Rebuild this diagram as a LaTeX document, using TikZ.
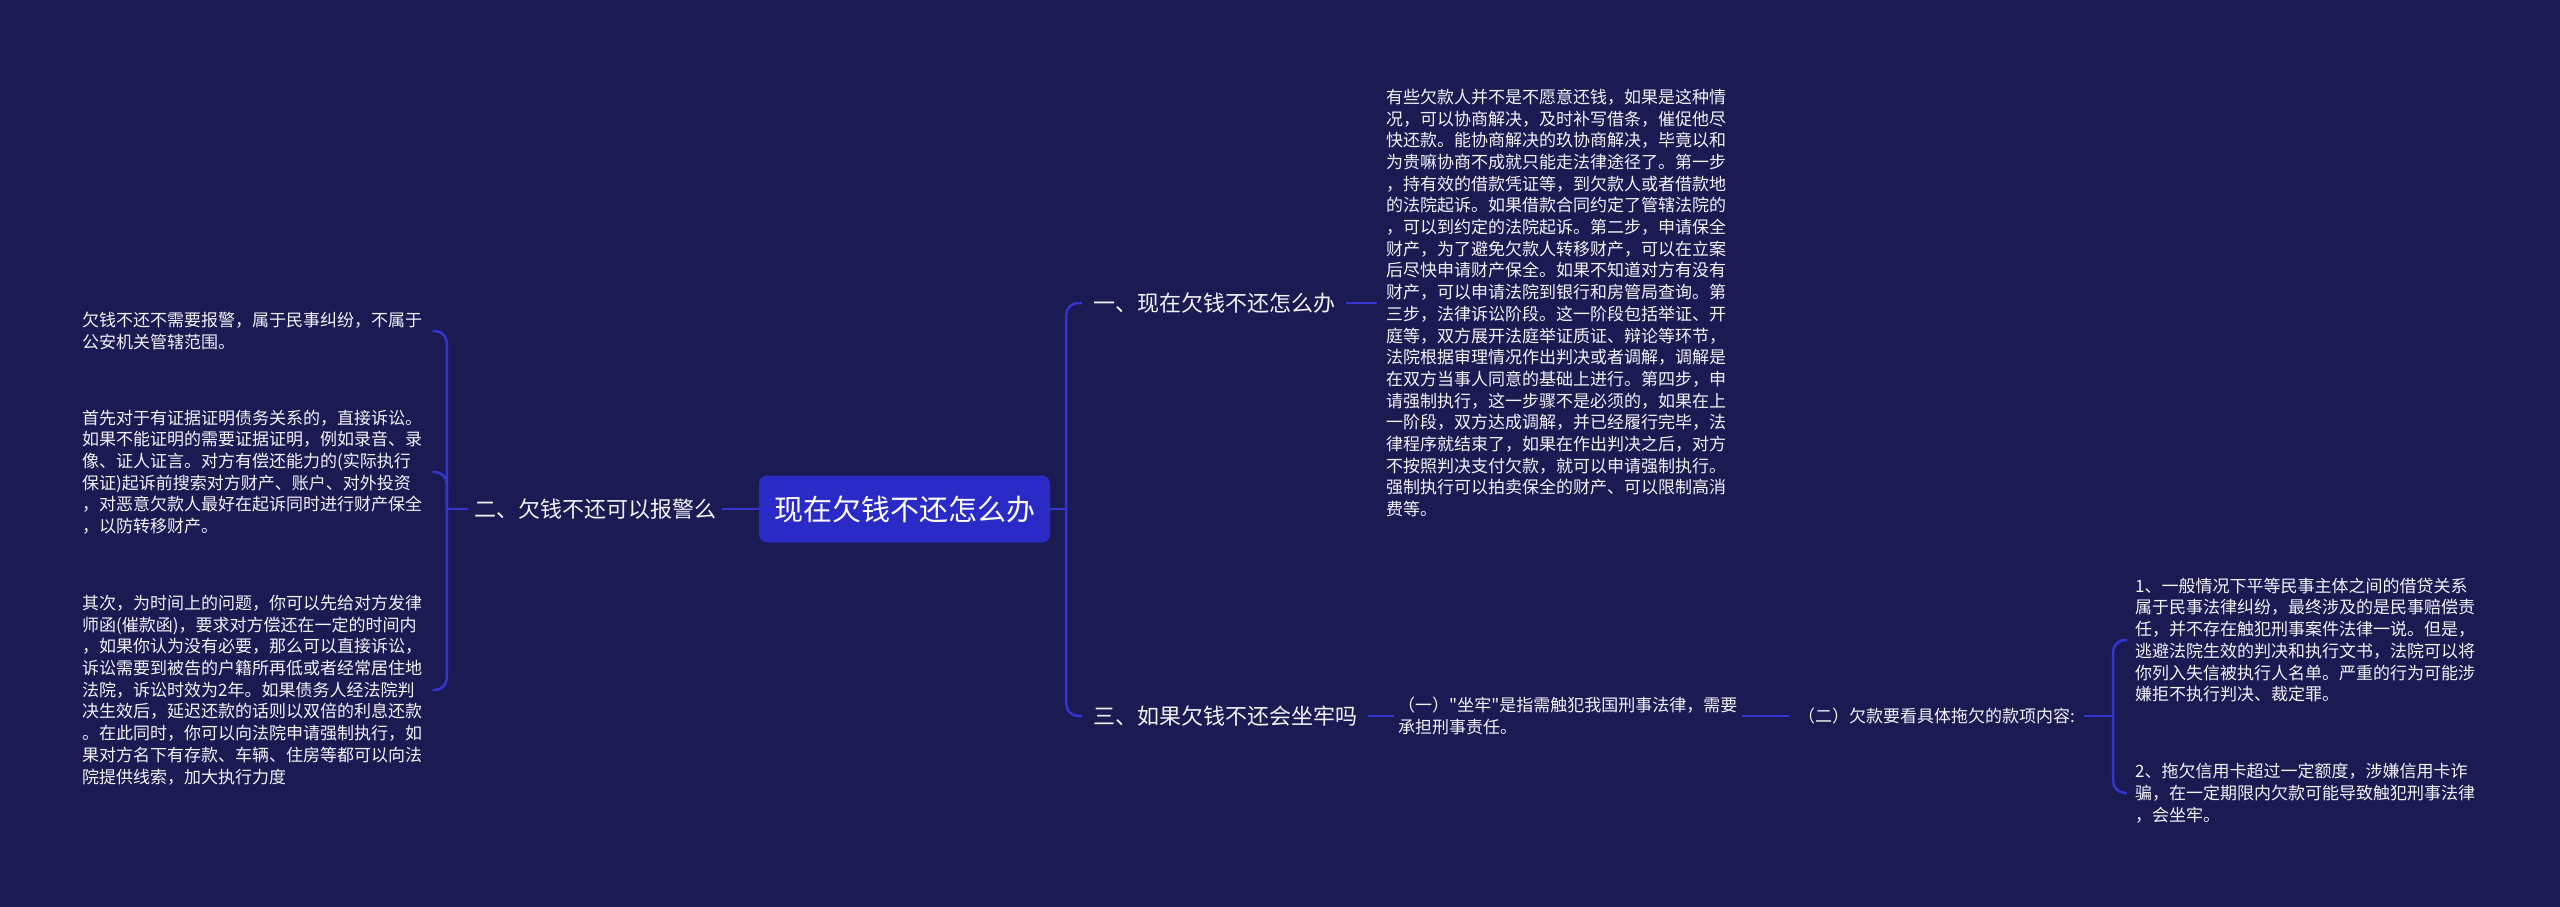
\documentclass[tikz,border=0pt]{standalone}
\usepackage{fontspec}
\setmainfont{Noto Sans CJK SC}
\newfontfamily\qfont{Noto Sans CJK SC}
\definecolor{bg}{HTML}{1B1A52}
\definecolor{ln}{HTML}{3434CF}
\definecolor{ctr}{HTML}{2A2AC6}
\definecolor{txt}{HTML}{F2F2FA}
\tikzset{
  conn/.style={draw=ln, line width=2.5pt, rounded corners=12pt},
  body/.style={text=txt, font=\fontsize{17}{21.7}\selectfont, align=left, inner sep=0pt},
  branch/.style={text=txt, font=\fontsize{22}{26}\selectfont, inner xsep=11pt, inner ysep=2pt},
  root/.style={fill=ctr, text=white, rounded corners=8pt, minimum width=291pt, minimum height=67pt, inner sep=0pt, font=\fontsize{29}{34}\selectfont}
}
\begin{document}
\begin{tikzpicture}[x=1pt,y=-1pt]
\fill[bg] (0,0) rectangle (2560,907);
\useasboundingbox (0,0) rectangle (2560,907);

% root
\node[root] (c) at (904.5,509) {现在欠钱不还怎么办};

% left branch
\node[branch, inner xsep=6pt] (b2) at (595,509) {二、欠钱不还可以报警么};
\node[body, text width=350pt, anchor=west] (l1) at (82,331) {欠钱不还不需要报警，属于民事纠纷，不属于\\公安机关管辖范围。};
\node[body, text width=350pt, anchor=west] (l2) at (82,472) {首先对于有证据证明债务关系的，直接诉讼。\\如果不能证明的需要证据证明，例如录音、录\\像、证人证言。对方有偿还能力的(实际执行\\保证)起诉前搜索对方财产、账户、对外投资\\，对恶意欠款人最好在起诉同时进行财产保全\\，以防转移财产。};
\node[body, text width=350pt, anchor=west] (l3) at (82,690) {其次，为时间上的问题，你可以先给对方发律\\师函(催款函)，要求对方偿还在一定的时间内\\，如果你认为没有必要，那么可以直接诉讼，\\诉讼需要到被告的户籍所再低或者经常居住地\\法院，诉讼时效为2年。如果债务人经法院判\\决生效后，延迟还款的话则以双倍的利息还款\\。在此同时，你可以向法院申请强制执行，如\\果对方名下有存款、车辆、住房等都可以向法\\院提供线索，加大执行力度};

\draw[conn] (c.west) -- (b2.east);
\draw[conn] (b2.west) -- ++(-21,0) coordinate (lj);
\draw[conn] (lj) |- (l1.east);
\draw[conn] (lj) |- (l2.east);
\draw[conn] (lj) |- (l3.east);

% right branches
\node[branch, anchor=west] (b1) at (1082,303) {一、现在欠钱不还怎么办};
\node[branch, anchor=west] (b3) at (1082,716) {三、如果欠钱不还会坐牢吗};
\draw[conn] (c.east) -- ++(16,0) coordinate (rj);
\draw[conn] (rj) |- (b1.west);
\draw[conn] (rj) |- (b3.west);

\node[body, anchor=west, inner xsep=9pt] (r1) at (1377,303) {有些欠款人并不是不愿意还钱，如果是这种情\\况，可以协商解决，及时补写借条，催促他尽\\快还款。能协商解决的玖协商解决，毕竟以和\\为贵嘛协商不成就只能走法律途径了。第一步\\，持有效的借款凭证等，到欠款人或者借款地\\的法院起诉。如果借款合同约定了管辖法院的\\，可以到约定的法院起诉。第二步，申请保全\\财产，为了避免欠款人转移财产，可以在立案\\后尽快申请财产保全。如果不知道对方有没有\\财产，可以申请法院到银行和房管局查询。第\\三步，法律诉讼阶段。这一阶段包括举证、开\\庭等，双方展开法庭举证质证、辩论等环节，\\法院根据审理情况作出判决或者调解，调解是\\在双方当事人同意的基础上进行。第四步，申\\请强制执行，这一步骤不是必须的，如果在上\\一阶段，双方达成调解，并已经履行完毕，法\\律程序就结束了，如果在作出判决之后，对方\\不按照判决支付欠款，就可以申请强制执行。\\强制执行可以拍卖保全的财产、可以限制高消\\费等。};
\draw[conn] (b1.east) -- (r1.west);

\node[body, anchor=west, inner xsep=4pt] (n1) at (1394,716) {\qfont （一）"坐牢"是指需触犯我国刑事法律，需要\\\qfont 承担刑事责任。};
\node[body, anchor=west, inner xsep=9pt] (n2) at (1789,716) {（二）欠款要看具体拖欠的款项内容:};
\draw[conn] (b3.east) -- (n1.west);
\draw[conn] (n1.east) -- (n2.west);
\draw[conn] (n2.east) -- ++(29,0) coordinate (mj);

\node[body, anchor=west, inner xsep=8pt] (m1) at (2127,640) {1、一般情况下平等民事主体之间的借贷关系\\属于民事法律纠纷，最终涉及的是民事赔偿责\\任，并不存在触犯刑事案件法律一说。但是，\\逃避法院生效的判决和执行文书，法院可以将\\你列入失信被执行人名单。严重的行为可能涉\\嫌拒不执行判决、裁定罪。};
\node[body, anchor=west, inner xsep=8pt] (m2) at (2127,793) {2、拖欠信用卡超过一定额度，涉嫌信用卡诈\\骗，在一定期限内欠款可能导致触犯刑事法律\\，会坐牢。};
\draw[conn] (mj) |- (m1.west);
\draw[conn] (mj) |- (m2.west);
\end{tikzpicture}
\end{document}
